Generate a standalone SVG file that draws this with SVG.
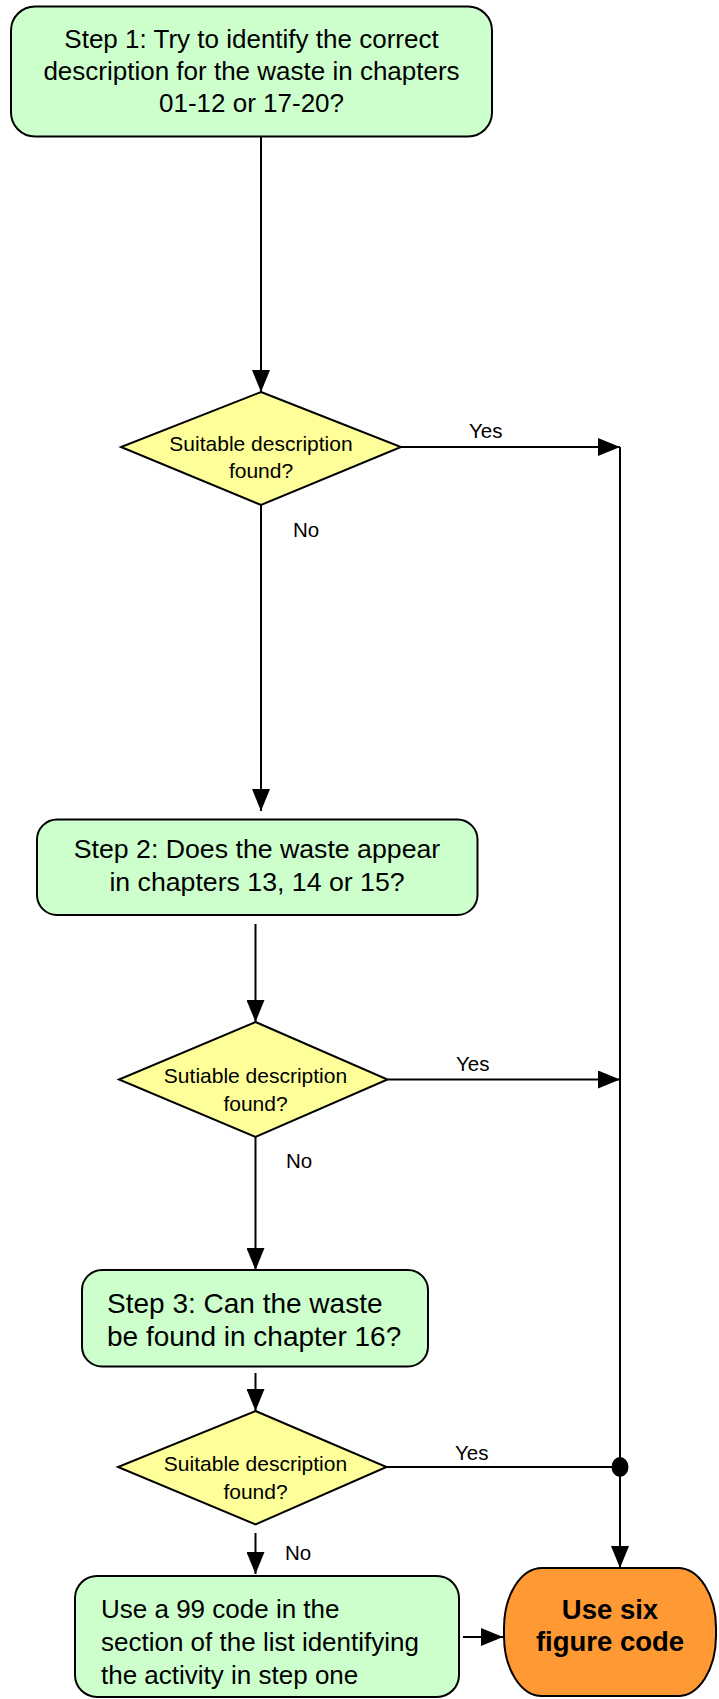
<svg xmlns="http://www.w3.org/2000/svg" width="719" height="1699" viewBox="0 0 719 1699">
<style>
.box{fill:#CCFFCC;stroke:#000;stroke-width:2}
.dia{fill:#FFFF99;stroke:#000;stroke-width:2}
.term{fill:#FF9933;stroke:#000;stroke-width:2}
.ln{stroke:#000;stroke-width:2;fill:none}
.t{font-family:"Liberation Sans",Arial,sans-serif;font-size:26px;fill:#000}
.td{font-family:"Liberation Sans",Arial,sans-serif;font-size:21px;fill:#000;text-anchor:middle}
.tl{font-family:"Liberation Sans",Arial,sans-serif;font-size:20.5px;fill:#000}
.tb{font-family:"Liberation Sans",Arial,sans-serif;font-size:27.5px;font-weight:bold;fill:#000;text-anchor:middle}
.c{text-anchor:middle}
</style>
<defs>
<marker id="ah" markerWidth="22" markerHeight="18" refX="22" refY="9" orient="auto" markerUnits="userSpaceOnUse">
<path d="M0,0 L22,9 L0,18 Z" fill="#000"/>
</marker>
</defs>
<g id="connectors">
<line class="ln" x1="261" y1="136" x2="261" y2="392" marker-end="url(#ah)"/>
<line class="ln" x1="401" y1="447" x2="620" y2="447" marker-end="url(#ah)"/>
<line class="ln" x1="261" y1="505" x2="261" y2="811" marker-end="url(#ah)"/>
<line class="ln" x1="255.5" y1="924" x2="255.5" y2="1022" marker-end="url(#ah)"/>
<line class="ln" x1="388" y1="1079.5" x2="620" y2="1079.5" marker-end="url(#ah)"/>
<line class="ln" x1="255.5" y1="1137" x2="255.5" y2="1270" marker-end="url(#ah)"/>
<line class="ln" x1="255.5" y1="1373" x2="255.5" y2="1411" marker-end="url(#ah)"/>
<line class="ln" x1="386.5" y1="1467" x2="620" y2="1467"/>
<ellipse cx="620" cy="1467" rx="8.5" ry="10" fill="#000"/>
<line class="ln" x1="620" y1="447" x2="620" y2="1568" marker-end="url(#ah)"/>
<line class="ln" x1="255.5" y1="1533" x2="255.5" y2="1574" marker-end="url(#ah)"/>
<line class="ln" x1="463" y1="1637" x2="503" y2="1637" marker-end="url(#ah)"/>
<text class="tl" x="469" y="438">Yes</text>
<text class="tl" x="293" y="537">No</text>
<text class="tl" x="456" y="1071">Yes</text>
<text class="tl" x="286" y="1168">No</text>
<text class="tl" x="455" y="1460">Yes</text>
<text class="tl" x="285" y="1560">No</text>
</g>
<g id="step1">
<rect class="box" x="11" y="6.5" width="481" height="130" rx="24" ry="24"/>
<text class="t c" x="251.5" y="48">Step 1: Try to identify the correct</text>
<text class="t c" x="251.5" y="80">description for the waste in chapters</text>
<text class="t c" x="251.5" y="112">01-12 or 17-20?</text>
</g>
<g id="decision1">
<polygon class="dia" points="261,392 401,447 261,505 121,447"/>
<text class="td" x="261" y="451">Suitable description</text>
<text class="td" x="261" y="478">found?</text>
</g>
<g id="step2">
<rect class="box" x="37" y="819.5" width="440.5" height="95.5" rx="20" ry="20"/>
<text class="t c" x="257" y="858" style="font-size:26.7px">Step 2: Does the waste appear</text>
<text class="t c" x="257" y="891" style="font-size:26.7px">in chapters 13, 14 or 15?</text>
</g>
<g id="decision2">
<polygon class="dia" points="255.5,1022 387.5,1079.5 255.5,1137 119,1079.5"/>
<text class="td" x="255.5" y="1083">Sutiable description</text>
<text class="td" x="255.5" y="1111">found?</text>
</g>
<g id="step3">
<rect class="box" x="82" y="1270" width="346" height="96.5" rx="20" ry="20"/>
<text class="t" x="107" y="1313" style="font-size:28px">Step 3: Can the waste</text>
<text class="t" x="107" y="1346" style="font-size:28px">be found in chapter 16?</text>
</g>
<g id="decision3">
<polygon class="dia" points="255.5,1411 386.5,1467 255.5,1524.5 118,1467"/>
<text class="td" x="255.5" y="1471">Suitable description</text>
<text class="td" x="255.5" y="1499">found?</text>
</g>
<g id="step4">
<rect class="box" x="75" y="1576" width="384" height="121" rx="22" ry="22"/>
<text class="t" x="101" y="1618">Use a 99 code in the</text>
<text class="t" x="101" y="1651">section of the list identifying</text>
<text class="t" x="101" y="1684">the activity in step one</text>
</g>
<g id="result">
<rect class="term" x="504" y="1568" width="212" height="128" rx="38" ry="60"/>
<text class="tb" x="610" y="1619">Use six</text>
<text class="tb" x="610" y="1651">figure code</text>
</g>
</svg>
